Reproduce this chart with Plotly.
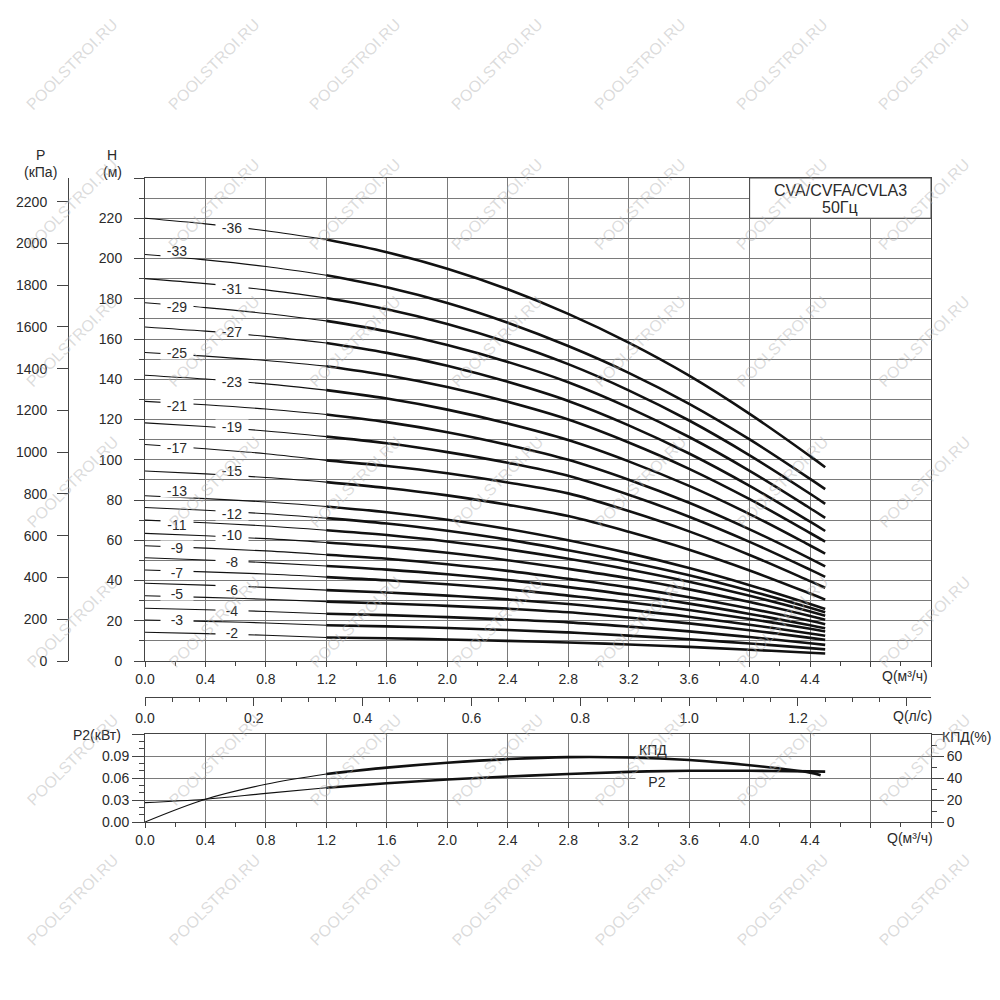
import plotly.graph_objects as go

# CVA/CVFA/CVLA3 50Hz - head curves, one per number of stages
Q_H = [0.0, 0.4, 0.8, 1.2, 1.6, 2.0, 2.4, 2.8, 3.2, 3.6, 4.0, 4.4, 4.5]

H_36 = [220.0, 217.2, 213.8, 209.4, 203.1, 194.9, 184.7, 172.5, 158.2, 141.8, 122.8, 101.8, 96.3]
H_33 = [202.0, 199.3, 196.0, 191.7, 185.7, 177.9, 168.1, 156.5, 143.2, 127.8, 110.1, 90.5, 85.4]
H_31 = [190.0, 187.5, 184.4, 180.4, 174.8, 167.5, 158.4, 147.5, 134.5, 119.5, 102.2, 83.1, 78.1]
H_29 = [178.0, 175.6, 172.7, 169.0, 163.8, 157.0, 148.6, 138.5, 125.9, 111.3, 94.5, 75.9, 71.1]
H_27 = [166.0, 163.9, 161.3, 158.0, 153.1, 146.7, 138.7, 129.2, 117.1, 103.1, 87.0, 69.2, 64.6]
H_25 = [153.3, 151.5, 149.3, 146.5, 142.0, 136.1, 128.8, 120.0, 108.6, 95.5, 80.4, 63.6, 59.3]
H_23 = [142.0, 140.1, 137.7, 134.6, 130.4, 124.9, 118.0, 109.8, 99.2, 87.0, 73.0, 57.4, 53.4]
H_21 = [129.0, 127.3, 125.2, 122.5, 118.7, 113.7, 107.4, 100.0, 90.1, 78.6, 65.4, 50.9, 47.0]
H_19 = [118.3, 116.5, 114.3, 111.5, 108.2, 103.8, 98.5, 92.0, 82.6, 71.7, 59.2, 45.4, 41.8]
H_17 = [107.6, 105.5, 103.0, 99.7, 96.9, 93.3, 88.7, 83.3, 74.5, 64.4, 52.7, 39.7, 36.4]
H_15 = [94.4, 93.0, 91.2, 88.9, 86.0, 82.3, 77.6, 72.0, 64.2, 55.3, 45.0, 33.5, 30.5]
H_13 = [82.1, 80.7, 79.0, 76.8, 73.9, 70.2, 65.6, 60.0, 53.6, 46.2, 37.7, 28.3, 25.8]
H_12 = [76.3, 74.9, 73.2, 71.0, 68.3, 64.7, 60.3, 55.0, 49.2, 42.6, 34.9, 26.5, 24.2]
H_11 = [70.0, 68.7, 67.1, 65.0, 62.6, 59.4, 55.5, 50.8, 45.5, 39.4, 32.4, 24.6, 22.5]
H_10 = [63.4, 62.2, 60.8, 58.9, 56.7, 53.8, 50.1, 45.8, 41.1, 35.6, 29.3, 22.4, 20.5]
H_9 = [57.3, 56.1, 54.7, 52.8, 50.8, 48.1, 44.8, 40.8, 36.6, 31.7, 26.1, 20.0, 18.3]
H_8 = [51.3, 50.2, 48.9, 47.2, 45.4, 43.1, 40.2, 36.7, 32.9, 28.5, 23.4, 17.8, 16.3]
H_7 = [45.2, 44.3, 43.2, 41.7, 40.1, 38.1, 35.6, 32.5, 29.2, 25.3, 20.9, 16.0, 14.7]
H_6 = [38.6, 37.7, 36.6, 35.2, 34.0, 32.5, 30.6, 28.3, 25.4, 22.0, 18.0, 13.7, 12.5]
H_5 = [32.4, 31.6, 30.7, 29.5, 28.6, 27.4, 26.0, 24.2, 21.6, 18.7, 15.3, 11.5, 10.5]
H_4 = [26.2, 25.5, 24.6, 23.5, 22.8, 21.8, 20.6, 19.2, 17.1, 14.7, 11.9, 8.8, 8.0]
H_3 = [20.4, 19.7, 18.9, 17.8, 17.2, 16.4, 15.4, 14.2, 12.6, 10.8, 8.7, 6.4, 5.8]
H_2 = [14.3, 13.6, 12.8, 11.7, 11.3, 10.7, 10.0, 9.2, 8.2, 7.0, 5.6, 4.1, 3.7]

STAGES = [36, 33, 31, 29, 27, 25, 23, 21, 19, 17, 15, 13, 12, 11, 10, 9, 8, 7, 6, 5, 4, 3, 2]
HEADS = [H_36, H_33, H_31, H_29, H_27, H_25, H_23, H_21, H_19, H_17, H_15, H_13,
         H_12, H_11, H_10, H_9, H_8, H_7, H_6, H_5, H_4, H_3, H_2]

# power and efficiency (lower panel)
Q_P2 = [0.0, 0.4, 0.8, 1.2, 1.6, 2.0, 2.4, 2.8, 3.2, 3.6, 4.0, 4.4, 4.5]
P2_KW = [0.0264, 0.031, 0.039, 0.0468, 0.0528, 0.0580, 0.0620, 0.0655, 0.0684, 0.0698, 0.0698, 0.0690, 0.0687]
Q_EFF = [0.0, 0.4, 0.8, 1.2, 1.6, 2.0, 2.4, 2.8, 3.2, 3.6, 4.0, 4.4, 4.47]
EFF_PCT = [0.0, 20.7, 34.3, 43.6, 49.4, 53.9, 57.2, 59.0, 58.7, 56.3, 51.6, 44.9, 42.6]

# axis ticks
Q_TICKS = [0.0, 0.4, 0.8, 1.2, 1.6, 2.0, 2.4, 2.8, 3.2, 3.6, 4.0, 4.4, 4.8, 5.2]
Q_TEXT = ["0.0", "0.4", "0.8", "1.2", "1.6", "2.0", "2.4", "2.8", "3.2", "3.6", "4.0", "4.4", "", ""]
H_TICKS = [0, 20, 40, 60, 80, 100, 120, 140, 160, 180, 200, 220, 240]
H_TEXT = ["0", "20", "40", "60", "80", "100", "120", "140", "160", "180", "200", "220", ""]
P_TICKS = [0, 200, 400, 600, 800, 1000, 1200, 1400, 1600, 1800, 2000, 2200]
QL_TICKS = [0.0, 0.2, 0.4, 0.6, 0.8, 1.0, 1.2, 1.4]
QL_TEXT = ["0.0", "0.2", "0.4", "0.6", "0.8", "1.0", "1.2", ""]
P2_TICKS = [0.0, 0.03, 0.06, 0.09, 0.12]
P2_TEXT = ["0.00", "0.03", "0.06", "0.09", ""]
EFF_TICKS = [0, 20, 40, 60, 80]
EFF_TEXT = ["0", "20", "40", "60", ""]

FONT = "Liberation Sans, Arial, sans-serif"
TXT = "#2a2a2a"
LINE = "#111111"
GRID = "#7a7a7a"

fig = go.Figure()


def add_curve(q, v, xa, ya):
    # thin outside the working range, thick inside it (Q >= 1.2)
    thin = [(a, b) for a, b in zip(q, v) if a <= 1.2]
    thick = [(a, b) for a, b in zip(q, v) if a >= 1.2]
    for part, w in ((thin, 1.1), (thick, 2.6)):
        fig.add_trace(go.Scatter(
            x=[p[0] for p in part], y=[p[1] for p in part],
            mode="lines", line=dict(color=LINE, width=w, shape="spline", smoothing=1.0),
            xaxis=xa, yaxis=ya, hoverinfo="skip", showlegend=False))


for h in HEADS:
    add_curve(Q_H, h, "x", "y")

add_curve(Q_P2, P2_KW, "x3", "y3")
add_curve(Q_EFF, EFF_PCT, "x3", "y4")

# empty traces so the extra scales are drawn
fig.add_trace(go.Scatter(x=[], y=[], xaxis="x", yaxis="y2", showlegend=False))
fig.add_trace(go.Scatter(x=[], y=[], xaxis="x2", yaxis="y", showlegend=False))

base = dict(showline=True, linecolor="#444", linewidth=1, ticks="outside", tickcolor="#444",
            gridcolor=GRID, gridwidth=1, zeroline=False,
            tickfont=dict(family=FONT, size=14, color=TXT))

fig.update_layout(
    width=1000, height=1000,
    margin=dict(l=0, r=0, t=0, b=0, autoexpand=False),
    paper_bgcolor="white", plot_bgcolor="white",
    showlegend=False, hovermode=False,
    font=dict(family=FONT, size=14, color=TXT),
    xaxis=dict(base, domain=[0.145, 0.931], range=[0, 5.2], anchor="y",
               tickmode="array", tickvals=Q_TICKS, ticktext=Q_TEXT, ticklen=5,
               showgrid=True, mirror=True,
               minor=dict(tickmode="linear", tick0=0, dtick=0.2, ticklen=4,
                          ticks="outside", tickcolor="#444", showgrid=False)),
    yaxis=dict(base, domain=[0.339, 0.822], range=[0, 240], anchor="x",
               tickmode="array", tickvals=H_TICKS, ticktext=H_TEXT, ticklen=10,
               ticklabelstandoff=9, showgrid=True, mirror=True,
               minor=dict(tickmode="linear", tick0=0, dtick=10, ticklen=5, ticks="outside",
                          tickcolor="#444", showgrid=True, gridcolor=GRID, gridwidth=1)),
    yaxis2=dict(base, overlaying="y", anchor="free", position=0.068, side="left",
                range=[0, 2313], tickmode="array", tickvals=P_TICKS, ticklen=11,
                ticklabelstandoff=7, showgrid=False),
    xaxis2=dict(base, overlaying="x", anchor="free", position=0.303, side="bottom",
                range=[0, 5.2 / 3.6], tickmode="array", tickvals=QL_TICKS, ticktext=QL_TEXT,
                ticklen=8, showgrid=False,
                minor=dict(tickmode="linear", tick0=0, dtick=0.05, ticklen=4,
                           ticks="outside", tickcolor="#444", showgrid=False)),
    xaxis3=dict(base, domain=[0.145, 0.931], range=[0, 5.2], anchor="y3",
                tickmode="array", tickvals=Q_TICKS, ticktext=Q_TEXT, ticklen=5,
                showgrid=True, mirror=True,
                minor=dict(tickmode="linear", tick0=0, dtick=0.2, ticklen=4,
                           ticks="outside", tickcolor="#444", showgrid=False)),
    yaxis3=dict(base, domain=[0.178, 0.266], range=[0, 0.12], anchor="x3",
                tickmode="array", tickvals=P2_TICKS, ticktext=P2_TEXT, ticklen=12,
                showgrid=True, mirror=True,
                minor=dict(tickmode="linear", tick0=0, dtick=0.01, ticklen=5,
                           ticks="outside", tickcolor="#444", showgrid=False)),
    yaxis4=dict(base, overlaying="y3", anchor="x3", side="right", range=[0, 80],
                tickmode="array", tickvals=EFF_TICKS, ticktext=EFF_TEXT, ticklen=12,
                showgrid=False,
                minor=dict(tickmode="linear", tick0=0, dtick=10, ticklen=5,
                           ticks="outside", tickcolor="#444", showgrid=False)),
)

# model box in the top right corner
fig.add_shape(type="rect", xref="x", yref="y", x0=4.0, x1=5.2, y0=220, y1=240,
              fillcolor="white", line=dict(color="#444", width=1), layer="above")
fig.add_annotation(x=4.6, y=234, xref="x", yref="y", text="CVA/CVFA/CVLA3",
                   showarrow=False, font=dict(size=16, color=TXT))
fig.add_annotation(x=4.6, y=225.5, xref="x", yref="y", text="50Гц",
                   showarrow=False, font=dict(size=16, color=TXT))

# stage labels on the curves
label_pos = [(0.575, 215.5), (0.21, 204.1), (0.575, 185.2), (0.21, 176.3), (0.575, 163.5),
             (0.21, 153.3), (0.575, 139.1), (0.21, 126.8), (0.575, 116.7), (0.21, 105.9),
             (0.575, 94.9), (0.21, 84.6), (0.575, 73.3), (0.21, 67.8), (0.575, 63.1),
             (0.21, 56.4), (0.575, 49.6), (0.21, 43.8), (0.575, 35.6), (0.21, 33.6),
             (0.575, 25.3), (0.21, 20.4), (0.575, 14.2)]
for n, (lx, ly) in zip(STAGES, label_pos):
    fig.add_annotation(x=lx, y=ly, xref="x", yref="y", text="-%d" % n, showarrow=False,
                       bgcolor="white", width=32, height=13, borderpad=0,
                       font=dict(size=14, color=TXT))

# axis titles and units
paper_text = [
    (0.040, 0.845, "P", "center"), (0.040, 0.828, "(кПа)", "center"),
    (0.112, 0.845, "H", "center"), (0.112, 0.828, "(м)", "center"),
    (0.905, 0.324, "Q(м³/ч)", "center"), (0.912, 0.284, "Q(л/с)", "center"),
    (0.123, 0.265, "P2(кВт)", "right"), (0.940, 0.263, "КПД(%)", "left"),
    (0.910, 0.162, "Q(м³/ч)", "center"),
]
for px, py, t, anc in paper_text:
    fig.add_annotation(x=px, y=py, xref="paper", yref="paper", text=t, showarrow=False,
                       xanchor=anc, yanchor="middle", font=dict(size=14, color=TXT))

fig.add_annotation(x=3.36, y=0.0982, xref="x3", yref="y3", text="КПД", showarrow=False,
                   font=dict(size=14, color=TXT))
fig.add_annotation(x=3.39, y=0.055, xref="x3", yref="y3", text="P2", showarrow=False,
                   bgcolor="white", width=42, height=14, borderpad=0,
                   font=dict(size=14, color=TXT))

# site watermark
for wy in [0.935, 0.795, 0.658, 0.518, 0.378, 0.240, 0.100]:
    for wx in [0.072, 0.214, 0.355, 0.497, 0.640, 0.782, 0.924]:
        fig.add_annotation(x=wx, y=wy, xref="paper", yref="paper", text="POOLSTROI.RU",
                           showarrow=False, textangle=-45, xanchor="center", yanchor="middle",
                           font=dict(size=16, color="rgba(175,175,175,0.45)"))

fig.write_html("out.html", config={"displayModeBar": False},
               post_script="document.body.style.margin='0';")
